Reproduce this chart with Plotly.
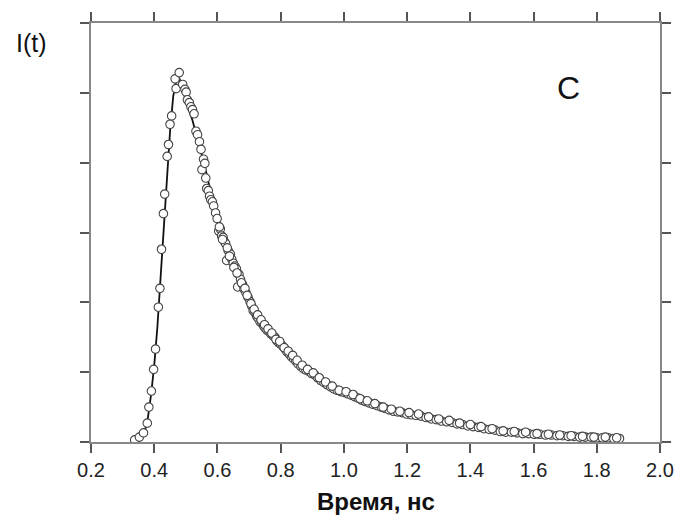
import plotly.graph_objects as go

# measured data points (time, ns ; intensity, arbitrary units)
t_data = [
    0.338, 0.353, 0.366, 0.378, 0.383, 0.391, 0.398, 0.404, 0.413, 0.418,
    0.423, 0.429, 0.433, 0.441, 0.445, 0.450, 0.455, 0.466, 0.469, 0.479,
    0.490, 0.497, 0.501, 0.505, 0.511, 0.516, 0.521, 0.526, 0.532, 0.537,
    0.543, 0.548, 0.551, 0.556, 0.560, 0.563, 0.566, 0.571, 0.575, 0.579,
    0.584, 0.588, 0.594, 0.599, 0.604, 0.609, 0.613, 0.618, 0.622, 0.626,
    0.629, 0.634, 0.641, 0.645, 0.650, 0.655, 0.660, 0.664, 0.668, 0.673,
    0.679, 0.684, 0.690, 0.697, 0.703, 0.708, 0.713, 0.719, 0.724, 0.729,
    0.735, 0.741, 0.746, 0.751, 0.757, 0.763, 0.769, 0.776, 0.782, 0.788,
    0.794, 0.800, 0.807, 0.814, 0.820, 0.827, 0.834, 0.841, 0.848, 0.855,
    0.864, 0.872, 0.880, 0.889, 0.898, 0.908, 0.917, 0.927, 0.937, 0.947,
    0.958, 0.968, 0.979, 0.990, 1.001, 1.012, 1.023, 1.034, 1.045, 1.056,
    1.068, 1.080, 1.092, 1.105, 1.118, 1.130, 1.143, 1.157, 1.170, 1.184,
    1.199, 1.213, 1.228, 1.244, 1.260, 1.276, 1.292, 1.308, 1.325, 1.342,
    1.358, 1.375, 1.392, 1.409, 1.426, 1.443, 1.460, 1.478, 1.495, 1.512,
    1.530, 1.548, 1.566, 1.584, 1.602, 1.620, 1.638, 1.656, 1.674, 1.692,
    1.710, 1.728, 1.746, 1.764, 1.782, 1.800, 1.818, 1.836, 1.854, 1.872,
    # second (overlapping) sweep
    0.606, 0.616, 0.631, 0.638, 0.652, 0.662, 0.676, 0.687, 0.694, 0.706,
    0.716, 0.727, 0.738, 0.749, 0.760, 0.772, 0.785, 0.797, 0.811, 0.824,
    0.838, 0.852, 0.868, 0.885, 0.903, 0.922, 0.942, 0.963, 0.985, 1.007,
    1.029, 1.051, 1.074, 1.098, 1.124, 1.150, 1.177, 1.206, 1.236, 1.268,
    1.300, 1.333, 1.366, 1.400, 1.434, 1.469, 1.504, 1.539, 1.575, 1.611,
    1.647, 1.683, 1.719, 1.755, 1.791, 1.827, 1.863,
]
i_data = [
    0.03, 0.07, 0.13, 0.27, 0.50, 0.73, 1.04, 1.33, 1.93, 2.20,
    2.76, 3.27, 3.55, 4.09, 4.26, 4.55, 4.67, 5.20, 5.06, 5.29,
    5.12, 5.05, 5.01, 4.90, 4.86, 4.80, 4.76, 4.70, 4.45, 4.40,
    4.30, 4.19, 3.90, 4.05, 3.99, 3.78, 3.63, 3.60, 3.52, 3.47,
    3.44, 3.38, 3.28, 3.20, 3.02, 3.05, 2.95, 2.93, 2.87, 2.84,
    2.60, 2.74, 2.69, 2.62, 2.56, 2.52, 2.48, 2.22, 2.40, 2.33,
    2.26, 2.19, 2.14, 2.07, 2.01, 1.95, 1.88, 1.85, 1.80, 1.77,
    1.72, 1.70, 1.66, 1.63, 1.60, 1.58, 1.55, 1.52, 1.50, 1.45,
    1.42, 1.40, 1.37, 1.33, 1.29, 1.26, 1.22, 1.19, 1.16, 1.12,
    1.08, 1.05, 1.03, 1.01, 0.98, 0.96, 0.92, 0.88, 0.85, 0.82,
    0.79, 0.76, 0.74, 0.72, 0.71, 0.69, 0.67, 0.65, 0.63, 0.60,
    0.58, 0.56, 0.54, 0.52, 0.50, 0.48, 0.46, 0.44, 0.43, 0.42,
    0.40, 0.39, 0.38, 0.37, 0.35, 0.33, 0.32, 0.30, 0.29, 0.28,
    0.26, 0.25, 0.23, 0.22, 0.21, 0.19, 0.18, 0.17, 0.15, 0.14,
    0.14, 0.13, 0.12, 0.12, 0.11, 0.11, 0.10, 0.10, 0.09, 0.09,
    0.08, 0.08, 0.07, 0.07, 0.07, 0.06, 0.06, 0.06, 0.05, 0.05,
    # second (overlapping) sweep
    3.08, 2.90, 2.78, 2.66, 2.50, 2.42, 2.28, 2.20, 2.10, 1.98,
    1.90, 1.82, 1.75, 1.68, 1.62, 1.56, 1.47, 1.44, 1.35, 1.30,
    1.24, 1.17, 1.10, 1.04, 0.99, 0.92, 0.86, 0.80, 0.74, 0.72,
    0.68, 0.62, 0.59, 0.55, 0.50, 0.47, 0.44, 0.42, 0.40, 0.36,
    0.33, 0.31, 0.27, 0.25, 0.22, 0.19, 0.16, 0.15, 0.14, 0.12,
    0.11, 0.10, 0.09, 0.08, 0.07, 0.07, 0.06,
]

# fitted curve
t_fit = [0.33, 0.34, 0.36, 0.37, 0.38, 0.39, 0.40, 0.41, 0.42, 0.43, 0.44,
         0.45, 0.46, 0.47, 0.475, 0.48, 0.49, 0.50, 0.52, 0.54, 0.56, 0.58,
         0.60, 0.62, 0.64, 0.66, 0.68, 0.70, 0.72, 0.74, 0.76, 0.78, 0.80,
         0.85, 0.90, 0.95, 1.00, 1.05, 1.10, 1.15, 1.20, 1.30, 1.40, 1.50,
         1.60, 1.70, 1.80, 1.87]
i_fit = [0.00, 0.02, 0.08, 0.15, 0.35, 0.68, 1.10, 1.65, 2.35, 3.10, 3.85,
         4.45, 4.95, 5.18, 5.22, 5.20, 5.05, 4.88, 4.62, 4.28, 3.95, 3.55,
         3.18, 2.90, 2.68, 2.45, 2.25, 2.05, 1.86, 1.71, 1.59, 1.50, 1.40,
         1.15, 0.98, 0.82, 0.71, 0.61, 0.52, 0.45, 0.40, 0.31, 0.23, 0.15,
         0.11, 0.085, 0.065, 0.05]

x_ticks = [0.2, 0.4, 0.6, 0.8, 1.0, 1.2, 1.4, 1.6, 1.8, 2.0]
x_tick_labels = ["0.2", "0.4", "0.6", "0.8", "1.0", "1.2", "1.4", "1.6", "1.8", "2.0"]
y_ticks = [0, 1, 2, 3, 4, 5, 6]

FONT = "Arial, Liberation Sans, sans-serif"

fig = go.Figure()
fig.add_trace(go.Scatter(x=t_fit, y=i_fit, mode="lines",
                         line=dict(color="#111111", width=1.8),
                         showlegend=False))
fig.add_trace(go.Scatter(x=t_data, y=i_data, mode="markers",
                         marker=dict(symbol="circle", size=8.5, color="white",
                                     line=dict(color="#444444", width=1.1)),
                         showlegend=False))

fig.update_layout(
    width=686, height=521,
    margin=dict(l=91, r=19, t=21, b=79),
    paper_bgcolor="white", plot_bgcolor="white",
    font=dict(family=FONT, color="#222222"),
    xaxis=dict(range=[0.1999, 2.0001], tickvals=x_ticks, ticktext=x_tick_labels,
               ticks="outside", ticklen=9, tickwidth=2, tickcolor="#555555",
               showline=True, linecolor="#888888", linewidth=2, mirror="ticks",
               showgrid=False, zeroline=False,
               tickfont=dict(size=20, family=FONT, color="#222222")),
    yaxis=dict(range=[0, 6], tickvals=y_ticks, showticklabels=False,
               ticks="outside", ticklen=9, tickwidth=2, tickcolor="#555555",
               showline=True, linecolor="#888888", linewidth=2, mirror="ticks",
               showgrid=False, zeroline=False),
    annotations=[
        dict(text="<b>Время, нс</b>", xref="paper", yref="paper", x=0.5, y=0,
             xanchor="center", yanchor="top", yshift=-44, showarrow=False,
             font=dict(size=24, family=FONT, color="#111111")),
        dict(text="I(t)", xref="paper", yref="paper", x=0, y=1,
             xanchor="center", yanchor="middle", xshift=-60, yshift=-20,
             showarrow=False, font=dict(size=25, family=FONT, color="#111111")),
        dict(text="C", xref="paper", yref="paper", x=0.84, y=0.846,
             xanchor="center", yanchor="middle", showarrow=False,
             font=dict(size=32, family=FONT, color="#111111")),
    ],
)

fig.write_html("out.html", config={"displayModeBar": False},
               post_script="document.body.style.margin='0';document.body.style.overflow='hidden';")
